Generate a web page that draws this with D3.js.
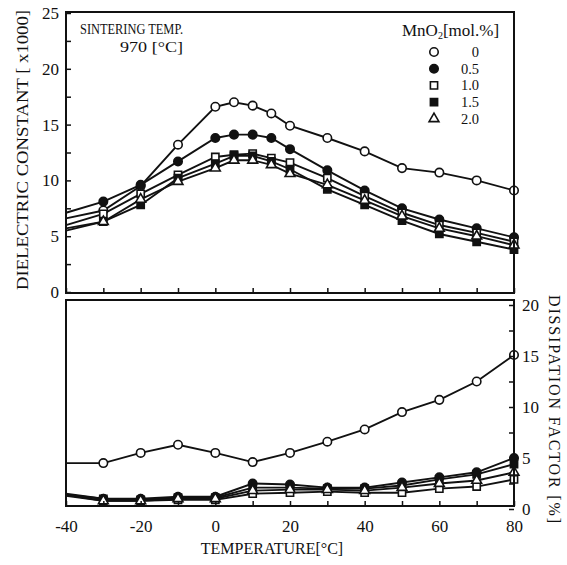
<!DOCTYPE html>
<html>
<head>
<meta charset="utf-8">
<script src="https://cdn.jsdelivr.net/npm/d3@7"></script>
<style>
  body { margin: 0; background: #fff; }
  svg text { font-family: "Liberation Serif", "DejaVu Serif", serif; fill: #111; }
</style>
</head>
<body>
<div id="chart"></div>
<script>
// Temperatures (deg C) for the dielectric constant panel
const tempsTop = [-40, -30, -20, -10, 0, 5, 10, 15, 20, 30, 40, 50, 60, 70, 80];
// Dielectric constant [x1000] for each MnO2 content
const eps00 = [6.6, 7.3, 9.5, 13.2, 16.6, 17.0, 16.7, 16.0, 14.9, 13.8, 12.6, 11.1, 10.7, 10.0, 9.1];
const eps05 = [7.1, 8.1, 9.6, 11.7, 13.8, 14.1, 14.1, 13.8, 12.8, 10.9, 9.1, 7.5, 6.5, 5.7, 4.9];
const eps10 = [6.0, 7.0, 8.8, 10.5, 12.1, 12.3, 12.4, 12.0, 11.6, 10.2, 8.6, 7.1, 6.0, 5.3, 4.5];
const eps15 = [5.5, 6.3, 7.8, 10.2, 11.5, 12.2, 12.2, 11.7, 11.0, 9.2, 7.8, 6.4, 5.2, 4.5, 3.8];
const eps20 = [5.7, 6.3, 8.3, 9.9, 11.1, 11.8, 11.8, 11.4, 10.6, 9.6, 8.2, 6.8, 5.7, 5.0, 4.2];

// Temperatures for the dissipation factor panel
const tempsBot = [-40, -30, -20, -10, 0, 10, 20, 30, 40, 50, 60, 70, 80];
// Dissipation factor [%]
const df00 = [4.5, 4.5, 5.5, 6.3, 5.5, 4.6, 5.5, 6.6, 7.8, 9.5, 10.7, 12.5, 15.1];
const df05 = [1.5, 1.0, 1.0, 1.2, 1.2, 2.5, 2.4, 2.1, 2.1, 2.6, 3.1, 3.6, 5.0];
const df10 = [1.4, 0.8, 0.8, 0.9, 0.9, 1.5, 1.6, 1.7, 1.6, 1.6, 2.0, 2.2, 2.9];
const df15 = [1.4, 1.0, 0.9, 1.1, 1.1, 2.1, 2.1, 2.0, 2.0, 2.3, 2.9, 3.4, 4.4];
const df20 = [1.3, 0.8, 0.8, 1.0, 1.0, 1.8, 1.9, 1.9, 1.8, 2.1, 2.5, 2.8, 3.6];

// Legend labels (MnO2 mol.%) and marker kinds
const mnLabels = ["0", "0.5", "1.0", "1.5", "2.0"];
const markerKinds = ["circleOpen", "circleFilled", "squareOpen", "squareFilled", "triangleOpen"];

const xTicks = [-40, -30, -20, -10, 0, 10, 20, 30, 40, 50, 60, 70, 80];
const topTicks = [0, 2.5, 5, 7.5, 10, 12.5, 15, 17.5, 20, 22.5, 25];
const botTicks = [0, 2.5, 5, 7.5, 10, 12.5, 15, 17.5, 20];

const W = 567, H = 565;
const left = 66, right = 514;
const topPanel = { top: 12, bottom: 293 };
const botPanel = { top: 300, bottom: 506 };

const svg = d3.select("#chart").append("svg")
    .attr("width", W)
    .attr("height", H);

svg.append("rect").attr("width", W).attr("height", H).attr("fill", "#fff");

// Scales
const x = d3.scaleLinear().domain([-40, 80]).range([left, right]);
const yTop = d3.scaleLinear().domain([0, 25]).range([292, 13]);
const yBot = d3.scaleLinear().domain([0, 20]).range([509, 305]);

// marker shapes
function marker(kind) {
  const type = kind.startsWith("circle") ? d3.symbolCircle
    : kind.startsWith("square") ? d3.symbolSquare : d3.symbolTriangle;
  const size = kind.startsWith("circle") ? 56 : kind.startsWith("square") ? 52 : 42;
  return d3.symbol().type(type).size(size)();
}
function markerFill(kind) {
  return kind.endsWith("Filled") ? "#111" : "#fff";
}

// Draw one series: line plus markers (markers at the left frame are hidden in the original)
function drawSeries(g, temps, values, yScale, kind) {
  const pts = temps.map((t, i) => ({ t: t, v: values[i] }));
  g.append("path")
      .datum(pts)
      .attr("fill", "none")
      .attr("stroke", "#111")
      .attr("stroke-width", 1.9)
      .attr("d", d3.line().x(d => x(d.t)).y(d => yScale(d.v)));
  g.selectAll(null)
      .data(pts.filter(d => d.t > -40))
      .enter()
      .append("path")
      .attr("transform", d => `translate(${x(d.t)},${yScale(d.v)})`)
      .attr("d", marker(kind))
      .attr("fill", markerFill(kind))
      .attr("stroke", "#111")
      .attr("stroke-width", 1.6);
}

function styleTicks(g) {
  g.select(".domain").remove();
  g.selectAll("line").attr("stroke", "#111").attr("stroke-width", 1.5);
  g.selectAll("text")
    .style("font-family", "Liberation Serif")
    .style("font-size", "17px")
    .attr("fill", "#111");
}

// ---- top panel: dielectric constant ----
const gTop = svg.append("g");
[eps00, eps05, eps10, eps15, eps20].forEach((vals, i) => {
  drawSeries(gTop, tempsTop, vals, yTop, markerKinds[i]);
});

// bottom axis of top panel: inward ticks only
svg.append("g")
    .attr("transform", `translate(0,${topPanel.bottom})`)
    .call(d3.axisBottom(x).tickValues(xTicks).tickSize(-5).tickFormat(""))
    .call(styleTicks);

// left axis of top panel
svg.append("g")
    .attr("transform", `translate(${left},0)`)
    .call(d3.axisLeft(yTop).tickValues(topTicks).tickSize(-5).tickPadding(7)
      .tickFormat(d => d % 5 === 0 ? d : ""))
    .call(styleTicks);

svg.append("rect")
    .attr("x", left).attr("y", topPanel.top)
    .attr("width", right - left).attr("height", topPanel.bottom - topPanel.top)
    .attr("fill", "none").attr("stroke", "#111").attr("stroke-width", 2);

// annotations
svg.append("text").attr("x", 80).attr("y", 34)
    .attr("textLength", 103).attr("lengthAdjust", "spacingAndGlyphs")
    .style("font-size", "15px").text("SINTERING TEMP.");
svg.append("text").attr("x", 120).attr("y", 52)
    .attr("textLength", 63).attr("lengthAdjust", "spacingAndGlyphs")
    .style("font-size", "15px").text("970 [°C]");

// legend
const legendHead = svg.append("text").attr("x", 402).attr("y", 36).style("font-size", "17px");
legendHead.append("tspan").text("MnO");
legendHead.append("tspan").attr("dy", 3).style("font-size", "10px").text("2");
legendHead.append("tspan").attr("dy", -3).text("[mol.%]");

const legend = svg.selectAll(".legend")
    .data(mnLabels)
    .enter()
    .append("g")
    .attr("class", "legend")
    .attr("transform", (d, i) => `translate(0,${52 + i * 16.7})`);

legend.append("path")
    .attr("transform", "translate(434,0)")
    .attr("d", (d, i) => marker(markerKinds[i]))
    .attr("fill", (d, i) => markerFill(markerKinds[i]))
    .attr("stroke", "#111")
    .attr("stroke-width", 1.6);

legend.append("text")
    .attr("x", 479)
    .attr("dy", "0.35em")
    .attr("text-anchor", "end")
    .style("font-size", "14.5px")
    .text(d => d);

// y label, top panel
svg.append("text")
    .attr("transform", "translate(28,150) rotate(-90)")
    .attr("text-anchor", "middle")
    .attr("textLength", 280).attr("lengthAdjust", "spacingAndGlyphs")
    .style("font-size", "17px")
    .text("DIELECTRIC CONSTANT [ x1000]");

// ---- bottom panel: dissipation factor ----
const gBot = svg.append("g");
[df00, df05, df10, df15, df20].forEach((vals, i) => {
  drawSeries(gBot, tempsBot, vals, yBot, markerKinds[i]);
});

svg.append("g")
    .attr("transform", `translate(0,${botPanel.bottom})`)
    .call(d3.axisBottom(x).tickValues(xTicks).tickSize(-5).tickPadding(14)
      .tickFormat(d => d % 20 === 0 ? d : ""))
    .call(styleTicks);

svg.append("g")
    .attr("transform", `translate(${right},0)`)
    .call(d3.axisRight(yBot).tickValues(botTicks).tickSize(-5).tickPadding(8)
      .tickFormat(d => d % 5 === 0 ? d : ""))
    .call(styleTicks);

svg.append("rect")
    .attr("x", left).attr("y", botPanel.top)
    .attr("width", right - left).attr("height", botPanel.bottom - botPanel.top)
    .attr("fill", "none").attr("stroke", "#111").attr("stroke-width", 2);

// axis titles, bottom panel
svg.append("text")
    .attr("x", 272).attr("y", 554)
    .attr("text-anchor", "middle")
    .style("font-size", "16px")
    .text("TEMPERATURE[°C]");

svg.append("text")
    .attr("transform", "translate(549,409) rotate(90)")
    .attr("text-anchor", "middle")
    .attr("textLength", 228).attr("lengthAdjust", "spacing")
    .style("font-size", "16px")
    .text("DISSIPATION FACTOR [%]");
</script>
</body>
</html>
